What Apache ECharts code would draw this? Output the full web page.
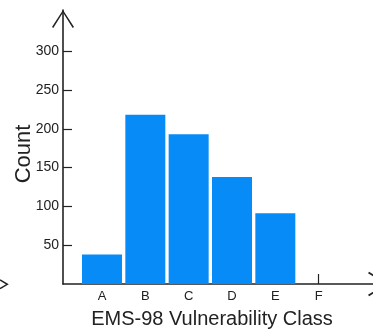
<!DOCTYPE html>
<html>
<head>
<meta charset="utf-8">
<script src="https://cdn.jsdelivr.net/npm/echarts@6/dist/echarts.min.js"></script>
<style>
  html, body { margin: 0; padding: 0; background: #fff; }
  #chart { width: 373px; height: 334px; }
</style>
</head>
<body>
<div id="chart"></div>
<script>
// Vulnerability classes and building counts
const categories = ['A', 'B', 'C', 'D', 'E', 'F'];
const counts = [38, 218, 193, 138, 91, 0];
const countTicks = [50, 100, 150, 200, 250, 300];

const FONT = '"Liberation Sans", Arial, sans-serif';
const INK = '#222';
// open chevron arrow head, pointing up
const chevron = 'path://M11 0 L22 17 L20.7 18 L11 2.4 L1.3 18 L0 17 Z';

const classPos = categories.map((c, i) => i + 1);
const barData = counts.map((v, i) => [classPos[i], v]);

const chart = echarts.init(document.getElementById('chart'));
chart.setOption({
  animation: false,
  grid: { left: 63, width: 325, top: 10, bottom: 50, outerBoundsMode: 'none', containLabel: false },
  xAxis: {
    type: 'value',
    min: 0.1,
    max: 7.6,
    splitLine: { show: false },
    axisLine: {
      show: true,
      lineStyle: { color: INK, width: 1.6 },
      symbol: ['none', chevron],
      symbolSize: [26, 20],
      symbolOffset: [0, -10]
    },
    axisTick: {
      show: true, inside: true, length: 10,
      customValues: classPos,
      lineStyle: { color: INK, width: 1.2 }
    },
    axisLabel: {
      customValues: classPos,
      margin: 6,
      fontSize: 13,
      fontFamily: FONT,
      color: INK,
      formatter: v => categories[Math.round(v) - 1] || ''
    }
  },
  yAxis: {
    type: 'value',
    min: 0,
    max: 353,
    splitLine: { show: false },
    axisLine: {
      show: true,
      lineStyle: { color: INK, width: 1.6 },
      symbol: ['none', chevron],
      symbolSize: [22, 18],
      symbolOffset: [0, -9]
    },
    axisTick: {
      show: true, inside: true, length: 9,
      customValues: countTicks,
      lineStyle: { color: INK, width: 1.2 }
    },
    axisLabel: {
      customValues: countTicks,
      margin: 4,
      fontSize: 14,
      fontFamily: FONT,
      color: INK
    }
  },
  series: [{
    type: 'bar',
    data: barData,
    barWidth: 40,
    itemStyle: { color: '#078cf7' }
  }],
  graphic: [
    {
      type: 'text',
      x: 212, y: 319,
      style: {
        text: 'EMS-98 Vulnerability Class',
        font: '20px ' + FONT,
        fill: INK,
        align: 'center',
        verticalAlign: 'middle'
      }
    },
    {
      type: 'text',
      x: 24, y: 154,
      rotation: Math.PI / 2,
      style: {
        text: 'Count',
        font: '22px ' + FONT,
        fill: INK,
        align: 'center',
        verticalAlign: 'middle'
      }
    },
    {
      type: 'polyline',
      shape: { points: [[0, 280], [7.3, 284.3], [0, 288.6]] },
      style: { stroke: INK, lineWidth: 1.5, fill: null }
    }
  ]
});
</script>
</body>
</html>
